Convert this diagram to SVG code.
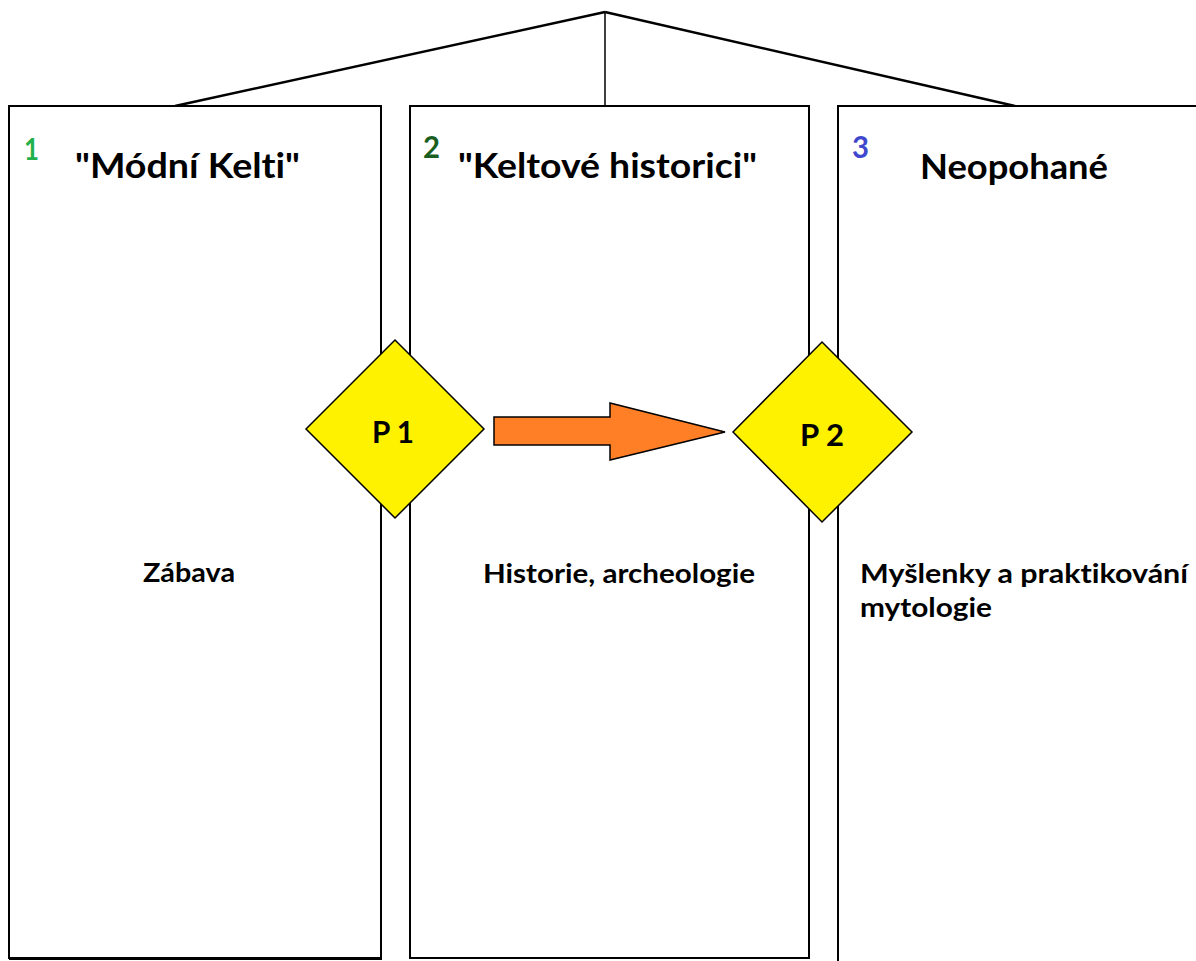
<svg xmlns="http://www.w3.org/2000/svg" width="1196" height="961" viewBox="0 0 1196 961">
<style>
.box{fill:#fff;stroke:#000;stroke-width:2}
.line{stroke:#000;stroke-width:2.5;fill:none}
.dia{fill:#fff200;stroke:#000;stroke-width:1.5}
.t{font-family:Lato,"Open Sans",sans-serif;font-weight:bold;fill:#000;font-variant-ligatures:none}
.title{font-size:35px}
.num{font-size:31px}
.body{font-size:27px}
.p{font-size:31px}
</style>
<rect width="1196" height="961" fill="#fff"/>
<g id="connectors">
<line class="line" x1="605" y1="12" x2="175" y2="106"/>
<line class="line" x1="605" y1="12" x2="605" y2="106" style="stroke-width:1.5"/>
<line class="line" x1="605" y1="12" x2="1015" y2="106"/>
</g>
<g id="box1">
<rect class="box" x="9" y="106" width="372" height="852"/>
<line x1="9" y1="959" x2="382" y2="959" stroke="#000" stroke-width="2"/>
<text class="t num" x="24" y="160" style="fill:#22b14c" textLength="15" lengthAdjust="spacingAndGlyphs">1</text>
<text class="t title" x="75" y="178" textLength="225" lengthAdjust="spacingAndGlyphs">"Módní Kelti"</text>
<text class="t body" x="143" y="582" textLength="92" lengthAdjust="spacingAndGlyphs">Zábava</text>
</g>
<g id="box2">
<rect class="box" x="410" y="106" width="399" height="852"/>
<text class="t num" x="423" y="158" style="fill:#1a5e20" textLength="17" lengthAdjust="spacingAndGlyphs">2</text>
<text class="t title" x="458" y="178" textLength="299" lengthAdjust="spacingAndGlyphs">"Keltové historici"</text>
<text class="t body" x="483" y="583" textLength="272" lengthAdjust="spacingAndGlyphs">Historie, archeologie</text>
</g>
<g id="box3">
<rect class="box" x="838" y="106" width="400" height="880"/>
<text class="t num" x="852" y="158" style="fill:#3f48cc" textLength="17" lengthAdjust="spacingAndGlyphs">3</text>
<text class="t title" x="920" y="179" textLength="188" lengthAdjust="spacingAndGlyphs">Neopohané</text>
<text class="t body" x="860" y="583" textLength="328" lengthAdjust="spacingAndGlyphs">Myšlenky a praktikování</text>
<text class="t body" x="860" y="617" textLength="132" lengthAdjust="spacingAndGlyphs">mytologie</text>
</g>
<g id="arrow">
<polygon points="494,417 610,417 610,403 725,432 610,460 610,445 494,445" fill="#ff7f27" stroke="#000" stroke-width="1.5"/>
</g>
<g id="p1">
<polygon class="dia" points="395,340 484,429 395,518 306,429"/>
<text class="t p" x="372" y="443" textLength="42" lengthAdjust="spacingAndGlyphs">P 1</text>
</g>
<g id="p2">
<polygon class="dia" points="822,342 912,432 822,522 733,432"/>
<text class="t p" x="800" y="446" textLength="44" lengthAdjust="spacingAndGlyphs">P 2</text>
</g>
</svg>
